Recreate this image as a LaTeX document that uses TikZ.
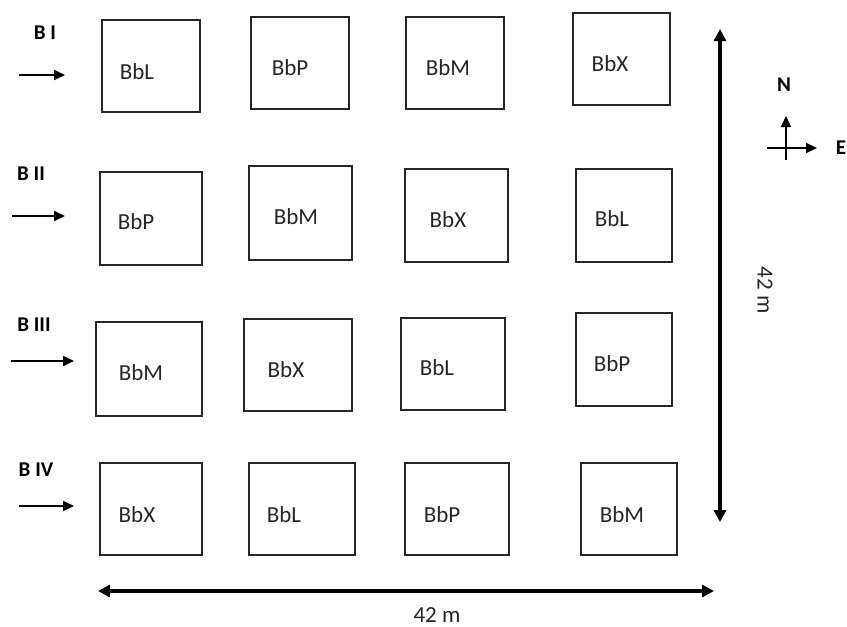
\documentclass[tikz,border=0pt]{standalone}
\usepackage{fontspec}
\setmainfont{Carlito}
\usetikzlibrary{arrows.meta}
\begin{document}
\begin{tikzpicture}[x=1pt,y=-1pt,
  plot/.style={draw=black!85,line width=1.1pt},
  lbl/.style={font=\fontsize{23}{27}\selectfont,text=black!85,inner sep=0pt},
  blk/.style={font=\bfseries\fontsize{21}{25}\selectfont,inner sep=0pt},
  rowarrow/.style={line width=1.9pt,-{Triangle[length=11pt,width=10pt]}},
  bigarrow/.style={line width=4pt,{Triangle[length=12pt,width=12pt]}-{Triangle[length=12pt,width=12pt]}},
  comp/.style={line width=1.9pt,-{Triangle[length=11pt,width=10pt]}}]
\useasboundingbox (0,0) rectangle (847,627);
% row 1
\draw[plot] (102,20) rectangle (200,112); \node[lbl] (t11) at (137,72) {BbL};
\draw[plot] (251,17) rectangle (349,109); \node[lbl] (t12) at (290,68) {BbP};
\draw[plot] (406,17) rectangle (504,109); \node[lbl] (t13) at (448,68) {BbM};
\draw[plot] (573,13) rectangle (670,105); \node[lbl] (t14) at (610,64) {BbX};
% row 2
\draw[plot] (100,172) rectangle (202,265); \node[lbl] (t21) at (136,222) {BbP};
\draw[plot] (249,166) rectangle (352,260); \node[lbl] (t22) at (296,217) {BbM};
\draw[plot] (405,169) rectangle (508,262); \node[lbl] (t23) at (448,220) {BbX};
\draw[plot] (576,169) rectangle (672,262); \node[lbl] (t24) at (612,219) {BbL};
% row 3
\draw[plot] (96,322) rectangle (202,416); \node[lbl] (t31) at (141,373) {BbM};
\draw[plot] (244,319) rectangle (352,411); \node[lbl] (t32) at (286,370) {BbX};
\draw[plot] (401,318) rectangle (505,410); \node[lbl] (t33) at (437,368) {BbL};
\draw[plot] (576,313) rectangle (672,406); \node[lbl] (t34) at (612,364) {BbP};
% row 4
\draw[plot] (100,463) rectangle (202,555); \node[lbl] (t41) at (137,515) {BbX};
\draw[plot] (249,463) rectangle (355,555); \node[lbl] (t42) at (284,515) {BbL};
\draw[plot] (405,463) rectangle (509,555); \node[lbl] (t43) at (442,515) {BbP};
\draw[plot] (581,463) rectangle (677,555); \node[lbl] (t44) at (622,515) {BbM};
% block labels
\node[blk] (b1) at (45,33) {B I};
\node[blk] (b2) at (31,174) {B II};
\node[blk] (b3) at (34,325) {B III};
\node[blk] (b4) at (36,470) {B IV};
\coordinate (a1s) at (19,75); \coordinate (a1e) at (65,75);
\coordinate (a2s) at (12,216); \coordinate (a2e) at (65,216);
\coordinate (a3s) at (11,361); \coordinate (a3e) at (74,361);
\coordinate (a4s) at (19,506); \coordinate (a4e) at (74,506);
\draw[rowarrow] (a1s) -- (a1e);
\draw[rowarrow] (a2s) -- (a2e);
\draw[rowarrow] (a3s) -- (a3e);
\draw[rowarrow] (a4s) -- (a4e);
% dimension arrows
\coordinate (vt) at (720,29); \coordinate (vb) at (720,522);
\draw[bigarrow] (vt) -- (vb);
\node[lbl,rotate=-90] (vl) at (765,290) {42 m};
\coordinate (hl) at (98,591); \coordinate (hr) at (714,591);
\draw[bigarrow] (hl) -- (hr);
\node[lbl] (hlab) at (437,615) {42 m};
% compass
\coordinate (cs) at (786,160); \coordinate (cn) at (786,116);
\coordinate (cw) at (767,148); \coordinate (ce) at (817,148);
\draw[comp] (cs) -- (cn);
\draw[comp] (cw) -- (ce);
\node[blk] (nn) at (784,85) {N};
\node[blk] (ee) at (841,148) {E};
\end{tikzpicture}
\end{document}
